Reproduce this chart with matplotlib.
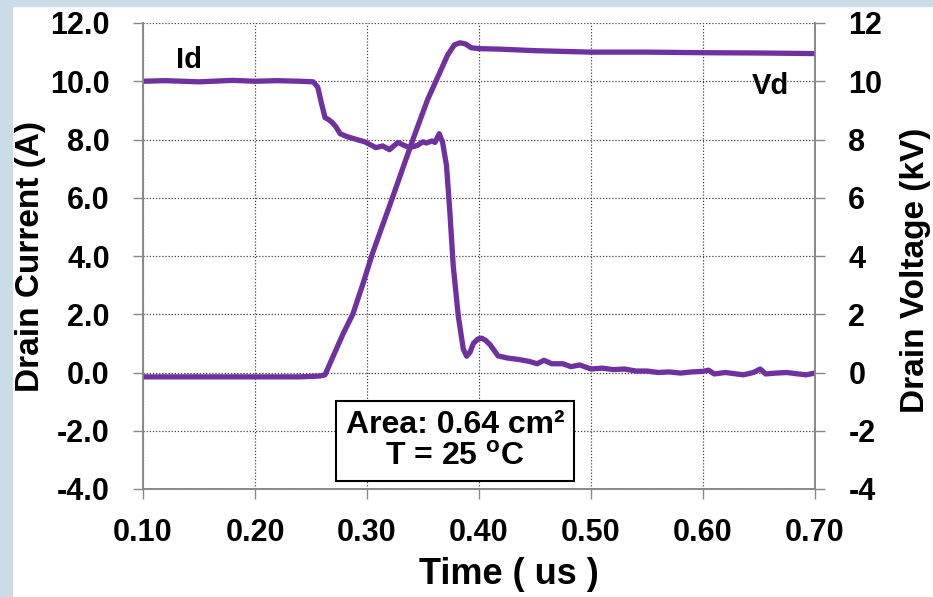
import matplotlib.pyplot as plt
from matplotlib.patches import Rectangle

plt.rcParams['font.family'] = ['Liberation Sans', 'DejaVu Sans']
plt.rcParams['font.weight'] = 'bold'
plt.rcParams['axes.labelweight'] = 'bold'
plt.rcParams['mathtext.fontset'] = 'custom'
plt.rcParams['mathtext.rm'] = 'Liberation Sans:bold'
plt.rcParams['mathtext.bf'] = 'Liberation Sans:bold'

PURPLE = '#7030a0'

# drain current (A)
id_time = [0.100, 0.120, 0.150, 0.180, 0.200, 0.220, 0.240, 0.252, 0.256, 0.259,
           0.2625, 0.265, 0.2685, 0.272, 0.276, 0.282, 0.2908, 0.298, 0.308, 0.314,
           0.320, 0.3277, 0.333, 0.3384, 0.345, 0.350, 0.353, 0.358, 0.3607, 0.3645,
           0.3675, 0.371, 0.374, 0.377, 0.3815, 0.386, 0.389, 0.392, 0.395, 0.399,
           0.4024, 0.406, 0.410, 0.417, 0.425, 0.435, 0.445, 0.452, 0.458, 0.465,
           0.475, 0.482, 0.490, 0.500, 0.510, 0.520, 0.530, 0.540, 0.550, 0.560,
           0.570, 0.580, 0.590, 0.600, 0.605, 0.610, 0.620, 0.630, 0.636, 0.645,
           0.651, 0.656, 0.665, 0.675, 0.685, 0.692, 0.700]
id_amps = [10.0, 10.02, 9.98, 10.03, 10.0, 10.02, 10.0, 9.98, 9.8, 9.3,
           8.75, 8.7, 8.6, 8.45, 8.2, 8.1, 8.0, 7.92, 7.72, 7.78,
           7.65, 7.9, 7.8, 7.72, 7.8, 7.92, 7.88, 7.95, 7.9, 8.2,
           7.9, 7.1, 5.5, 3.66, 1.94, 0.8, 0.56, 0.7, 1.0, 1.15,
           1.18, 1.1, 0.95, 0.57, 0.5, 0.45, 0.38, 0.3, 0.42, 0.3,
           0.3, 0.2, 0.26, 0.12, 0.15, 0.1, 0.12, 0.05, 0.05, 0.0,
           0.02, -0.02, 0.02, 0.04, 0.08, -0.05, 0.0, -0.05, -0.08, 0.0,
           0.12, -0.05, -0.02, 0.0, -0.05, -0.08, -0.02]

# drain voltage (kV)
vd_time = [0.100, 0.150, 0.200, 0.240, 0.258, 0.2625, 0.2696, 0.2789, 0.2873, 0.296,
           0.305, 0.3227, 0.341, 0.354, 0.365, 0.372, 0.378, 0.383, 0.388, 0.393,
           0.400, 0.420, 0.450, 0.500, 0.550, 0.600, 0.650, 0.700]
vd_kv = [-0.15, -0.15, -0.15, -0.15, -0.12, -0.08, 0.54, 1.35, 2.0, 3.0,
         4.1, 6.0, 8.0, 9.36, 10.3, 10.9, 11.25, 11.32, 11.28, 11.15,
         11.12, 11.1, 11.05, 11.0, 11.0, 10.98, 10.97, 10.95]

x_ticks = [0.10, 0.20, 0.30, 0.40, 0.50, 0.60, 0.70]
y_ticks = [-4, -2, 0, 2, 4, 6, 8, 10, 12]

fig = plt.figure(figsize=(9.33, 5.97), dpi=100)
fig.patch.set_facecolor('white')
# light blue slide border, kept behind everything
fig.patches.append(Rectangle((0, 0), 12 / 933, 1, transform=fig.transFigure,
                             color='#c9dce7', zorder=-5))
fig.patches.append(Rectangle((0, 1 - 6 / 597), 1, 6 / 597, transform=fig.transFigure,
                             color='#c9dce7', zorder=-5))

ax = fig.add_axes([143 / 933, 1 - 489 / 597, 672 / 933, 466 / 597])
ax2 = ax.twinx()

ax.plot(id_time, id_amps, color=PURPLE, lw=3.8, solid_joinstyle='round')
ax2.plot(vd_time, vd_kv, color=PURPLE, lw=3.8, solid_joinstyle='round')

for a in (ax, ax2):
    a.set_xlim(0.10, 0.70)
    a.set_ylim(-4, 12)
    a.set_yticks(y_ticks)
    for s in a.spines.values():
        s.set_color('#888888')
        s.set_linewidth(1.2)
    a.spines['top'].set_visible(False)
    a.tick_params(axis='y', length=7, width=1, color='#888888', labelsize=22, pad=17)

ax.tick_params(axis='x', length=7, width=1, color='#888888', labelsize=22, pad=14)
ax.set_xticks(x_ticks)
ax.set_xticklabels(['%.2f' % t for t in x_ticks])
ax.set_yticklabels(['%.1f' % v for v in y_ticks])
ax2.set_yticklabels(['%d' % v for v in y_ticks])
ax.grid(True, color='#444444', linestyle=(0, (1, 1.5)), linewidth=0.9)

ax.set_xlabel('Time ( us )', fontsize=26)
ax.xaxis.set_label_coords(0.545, -0.145)
ax.set_ylabel('Drain Current (A)', fontsize=24)
ax.yaxis.set_label_coords(-0.145, 0.50)
ax2.set_ylabel('Drain Voltage (kV)', fontsize=24)
ax2.yaxis.set_label_coords(1.127, 0.47)

ax.text(0.141, 10.73, 'Id', fontsize=21, ha='center', va='center')
ax.text(0.660, 9.85, 'Vd', fontsize=21, ha='center', va='center')

ax.text(0.3786, -2.35, 'Area: 0.64 cm\u00b2\nT = 25 $^{\\mathrm{o}}$C', fontsize=23,
        ha='center', va='center', linespacing=1.05,
        bbox=dict(boxstyle='square,pad=0.3', fc='white', ec='black', lw=1.5))

fig.savefig('out.png', dpi=100)
